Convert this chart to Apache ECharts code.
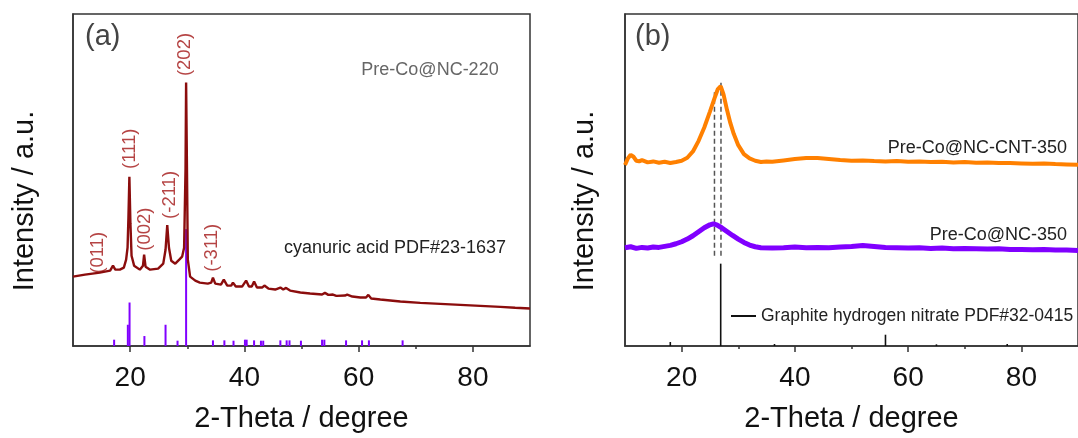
<!DOCTYPE html>
<html>
<head>
<meta charset="utf-8">
<script src="https://cdn.jsdelivr.net/npm/echarts@6/dist/echarts.min.js"></script>
<style>
  html, body { margin: 0; padding: 0; background: #fff; }
  #chart { width: 1078px; height: 438px; }
</style>
</head>
<body>
<div id="chart"></div>
<script>
// ---------- Panel (a): Pre-Co@NC-220 pattern, [2θ, intensity] ----------
const sampleA = [
  [10, 20.9], [12.1, 21.5], [14.7, 22.1], [16.5, 22.7], [17.0, 24.2], [17.4, 23.0],
  [18.2, 23.0], [18.9, 23.6], [19.3, 26.0], [19.55, 29.6], [19.7, 38.5], [19.87, 51.0],
  [20.05, 37.0], [20.25, 27.2], [20.7, 24.2], [21.7, 23.0], [22.25, 24.2], [22.45, 27.5],
  [22.7, 23.9], [23.5, 23.0], [24.9, 23.3], [25.8, 24.8], [26.2, 29.0], [26.5, 36.4],
  [26.8, 29.6], [27.2, 25.7], [27.9, 24.8], [28.6, 26.0], [29.1, 26.9], [29.45, 29.6],
  [29.7, 53.4], [29.8, 79.4], [29.95, 53.4], [30.1, 26.0], [30.5, 20.9], [31.4, 19.7],
  [32.2, 19.1], [33.6, 18.8], [34.2, 19.1], [34.5, 20.6], [34.9, 18.8], [35.9, 18.5],
  [36.4, 20.0], [37.0, 18.2], [37.7, 18.2], [38.0, 19.1], [38.5, 17.9], [39.6, 17.9],
  [40.3, 19.7], [40.8, 17.9], [41.3, 17.9], [41.7, 19.4], [42.2, 17.6], [43.1, 17.6],
  [43.5, 18.2], [44.2, 17.3], [45.4, 17.0], [46.3, 17.6], [46.8, 17.0], [47.3, 17.5],
  [48.0, 16.7], [49.8, 16.1], [51.5, 15.8], [53.6, 15.5], [54.1, 16.0], [54.7, 15.4],
  [55.5, 15.5], [56.1, 15.1], [57.6, 15.2], [58.0, 15.5], [58.9, 14.9], [60.3, 14.6],
  [61.3, 14.6], [61.7, 15.4], [62.2, 14.3], [63.8, 14.0], [67.3, 13.4], [70.8, 13.0],
  [74.3, 12.7], [77.8, 12.4], [81.3, 12.1], [84.8, 11.8], [87.4, 11.5], [90, 11.3]
];

// cyanuric acid PDF#23-1637 reference lines
const refA = [
  [17.2, 1.9], [19.6, 6.4], [19.9, 13.1], [22.5, 3.0], [26.2, 6.4], [28.3, 1.6],
  [29.8, 35.2], [34.5, 1.7], [36.5, 1.7], [38.1, 1.6], [40.1, 1.9], [40.4, 1.9],
  [41.7, 1.7], [42.9, 1.6], [43.3, 1.6], [46.3, 1.7], [47.4, 1.7], [47.9, 1.7],
  [49.9, 1.6], [53.6, 1.9], [54.0, 1.9], [57.8, 1.7], [60.6, 1.7], [61.8, 1.7],
  [67.7, 1.7]
];

// Miller indices: [text, 2θ, label centre height]
const peakLabelsA = [
  ['(011)', 14.3, 28.1], ['(111)', 19.9, 59.4], ['(002)', 22.6, 35.2],
  ['(-211)', 26.9, 45.5], ['(202)', 29.6, 87.8], ['(-311)', 34.3, 29.6]
];

// ---------- Panel (b) ----------
const cntB = [ // Pre-Co@NC-CNT-350
  [10, 54.5], [10.5, 56.5], [11, 57.6], [11.5, 57.0], [12, 55.8], [12.5, 55.6], [13, 56.0],
  [14, 55.3], [15, 55.6], [16, 55.2], [17, 55.5], [18, 55.1], [19, 55.4], [20, 55.8],
  [21, 56.7], [22, 58.6], [23, 61.8], [24, 65.8], [25, 70.6], [25.8, 74.6], [26.4, 77.4],
  [26.9, 78.3], [27.4, 75.8], [28, 71.2], [28.6, 67.2], [29.2, 63.9], [30, 60.5],
  [31, 57.8], [32, 56.5], [33, 55.8], [34, 55.4], [35, 55.6], [36, 55.5], [38, 55.9],
  [40, 56.3], [42, 56.6], [44, 56.6], [46, 56.3], [48, 56.0], [50, 55.8], [52, 55.9],
  [54, 55.7], [56, 55.6], [58, 55.7], [60, 55.5], [62, 55.6], [64, 55.4], [66, 55.5],
  [68, 55.3], [70, 55.4], [72, 55.2], [74, 55.3], [76, 55.1], [78, 55.1], [80, 55.0],
  [82, 54.9], [84, 55.0], [86, 54.8], [88, 54.7], [90, 54.6]
];

const ncB = [ // Pre-Co@NC-350
  [10, 29.6], [11, 29.9], [12, 29.4], [13, 29.7], [14, 29.5], [15, 29.8], [16, 29.7],
  [17, 30.0], [18, 30.3], [19, 30.8], [20, 31.4], [21, 32.2], [22, 33.2], [23, 34.4],
  [24, 35.6], [25, 36.5], [25.6, 36.8], [26.2, 36.5], [27, 35.7], [28, 34.5], [29, 33.3],
  [30, 32.2], [31, 31.2], [32, 30.4], [33, 29.9], [34, 29.6], [36, 29.5], [38, 29.6],
  [40, 29.8], [42, 29.6], [44, 29.7], [46, 29.6], [48, 29.8], [50, 30.0], [52, 30.3],
  [54, 30.0], [56, 29.7], [58, 29.6], [60, 29.5], [62, 29.6], [64, 29.4], [66, 29.5],
  [68, 29.3], [70, 29.4], [72, 29.3], [74, 29.2], [76, 29.3], [78, 29.1], [80, 29.1],
  [82, 29.0], [84, 29.1], [86, 28.9], [88, 28.9], [90, 28.8]
];

// Graphite hydrogen nitrate PDF#32-0415 reference lines
const graphiteRef = [[18.0, 1.2], [26.9, 24.8], [36.4, 0.6], [56.0, 3.4], [65.0, 0.5], [77.5, 0.6]];

// dashed guides: [2θ, from, to]
const guidesB = [[25.8, 27.2, 76.4], [26.95, 27.2, 80.0]];

// axis ticks
const xMajorTicks = [20, 40, 60, 80];
const xMinorTicks = [30, 50, 70];

// ---------- chart ----------
const FONT = '"Liberation Sans", Arial, sans-serif';
const FRAME = '#333';

function stickSeries(name, data, xi, color, width) {
  return {
    name, type: 'custom', xAxisIndex: xi, yAxisIndex: xi, data,
    itemStyle: { color },
    renderItem(params, api) {
      const a = api.coord([api.value(0), 0]);
      const b = api.coord([api.value(0), api.value(1)]);
      return { type: 'line', shape: { x1: a[0], y1: a[1], x2: b[0], y2: b[1] },
               style: { stroke: color, lineWidth: width } };
    }
  };
}

function guideSeries(data, xi) {
  return {
    type: 'custom', xAxisIndex: xi, yAxisIndex: xi, data, silent: true,
    renderItem(params, api) {
      const a = api.coord([api.value(0), api.value(1)]);
      const b = api.coord([api.value(0), api.value(2)]);
      return { type: 'line', shape: { x1: a[0], y1: a[1], x2: b[0], y2: b[1] },
               style: { stroke: '#555', lineWidth: 1.5, lineDash: [5, 3] } };
    }
  };
}

function mainX(gi) {
  return {
    type: 'value', gridIndex: gi, min: 10, max: 90, interval: 10, position: 'bottom',
    axisLine: { show: true, onZero: false, lineStyle: { color: FRAME, width: 1.5 } },
    axisTick: { show: true, customValues: xMajorTicks, length: 6, lineStyle: { color: FRAME, width: 1.5 } },
    axisLabel: { customValues: xMajorTicks, fontSize: 28, margin: 18, color: '#111', fontFamily: FONT },
    splitLine: { show: false },
    name: '2-Theta / degree', nameLocation: 'middle', nameGap: 58,
    nameTextStyle: { fontSize: 29, color: '#111', fontFamily: FONT }
  };
}
function minorX(gi) {
  return {
    type: 'value', gridIndex: gi, min: 10, max: 90, interval: 10, position: 'bottom',
    axisLine: { show: false },
    axisTick: { show: true, customValues: xMinorTicks, length: 3, lineStyle: { color: FRAME, width: 1.5 } },
    axisLabel: { show: false }, splitLine: { show: false }
  };
}
function plainY(gi) {
  return {
    type: 'value', gridIndex: gi, min: 0, max: 100,
    axisLine: { show: true, lineStyle: { color: FRAME, width: 1.5 } },
    axisTick: { show: false }, axisLabel: { show: false }, splitLine: { show: false }
  };
}

function txt(x, y, text, size, fill, align, rotation) {
  return { type: 'text', x, y, rotation: rotation || 0, silent: true,
           style: { text, fontSize: size, fontFamily: FONT, fill, align: align || 'left', verticalAlign: 'middle' } };
}

const chart = echarts.init(document.getElementById('chart'), null, { renderer: 'canvas' });
chart.setOption({
  animation: false,
  backgroundColor: '#fff',
  grid: [
    { left: 73, top: 14, width: 457, height: 335, show: true, borderColor: FRAME, borderWidth: 1.5, backgroundColor: 'transparent' },
    { left: 625, top: 14, width: 458, height: 335, show: true, borderColor: FRAME, borderWidth: 1.5, backgroundColor: 'transparent' }
  ],
  xAxis: [mainX(0), mainX(1), minorX(0), minorX(1)],
  yAxis: [plainY(0), plainY(1)],
  legend: {
    left: 731, top: 307, padding: 0, itemWidth: 25, itemHeight: 2, selectedMode: false,
    data: [{ name: 'Graphite hydrogen nitrate PDF#32-0415', icon: 'rect', itemStyle: { color: '#111' } }],
    textStyle: { fontSize: 17.5, color: '#222', fontFamily: FONT }
  },
  graphic: [
    txt(85, 37, '(a)', 29, '#444'),
    txt(635, 37, '(b)', 29, '#444'),
    txt(430, 70, 'Pre-Co@NC-220', 18, '#666', 'center'),
    txt(395, 248, 'cyanuric acid PDF#23-1637', 18, '#222', 'center'),
    txt(1067, 148, 'Pre-Co@NC-CNT-350', 18, '#222', 'right'),
    txt(1067, 235, 'Pre-Co@NC-350', 18, '#222', 'right'),
    txt(25, 201, 'Intensity / a.u.', 29, '#111', 'center', Math.PI / 2),
    txt(585, 201, 'Intensity / a.u.', 29, '#111', 'center', Math.PI / 2)
  ],
  series: [
    stickSeries('cyanuric acid PDF#23-1637', refA, 0, '#8000ff', 2),
    {
      name: 'Pre-Co@NC-220', type: 'line', xAxisIndex: 0, yAxisIndex: 0, data: sampleA,
      showSymbol: false, lineStyle: { color: '#8b0d0d', width: 2.4 }, itemStyle: { color: '#8b0d0d' }
    },
    {
      type: 'scatter', xAxisIndex: 0, yAxisIndex: 0, symbolSize: 0, silent: true,
      data: peakLabelsA.map(p => ({ name: p[0], value: [p[1], p[2]] })),
      label: { show: true, position: 'inside', rotate: 90, formatter: '{b}',
               fontSize: 18.5, color: '#a31515', fontFamily: FONT }
    },
    guideSeries(guidesB, 1),
    stickSeries('Graphite hydrogen nitrate PDF#32-0415', graphiteRef, 1, '#111', 1.6),
    {
      name: 'Pre-Co@NC-CNT-350', type: 'line', xAxisIndex: 1, yAxisIndex: 1, data: cntB,
      showSymbol: false, lineStyle: { color: '#ff8000', width: 4 }, itemStyle: { color: '#ff8000' }
    },
    {
      name: 'Pre-Co@NC-350', type: 'line', xAxisIndex: 1, yAxisIndex: 1, data: ncB,
      showSymbol: false, lineStyle: { color: '#8000ff', width: 5 }, itemStyle: { color: '#8000ff' }
    }
  ]
});
</script>
</body>
</html>
